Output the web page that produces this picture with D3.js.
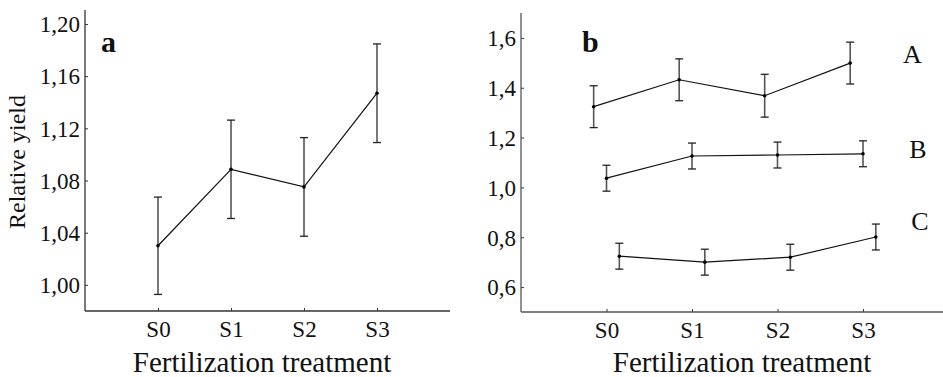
<!DOCTYPE html>
<html><head><meta charset="utf-8">
<script src="https://cdn.jsdelivr.net/npm/d3@7"></script>
<style>
html,body{margin:0;padding:0;background:#fff;}
svg{display:block;}
</style></head>
<body><svg id="c" width="943" height="377" font-family="Liberation Serif"></svg>
<script>
const categories = ["S0","S1","S2","S3"];
// Panel a
const aMean = [1.030, 1.0886, 1.0751, 1.1469];
const aErr  = [0.0373, 0.0377, 0.0378, 0.0378];
const aTicks = [1.00, 1.04, 1.08, 1.12, 1.16, 1.20];
// Panel b
const seriesNames = ["A","B","C"];
const bA = [1.324, 1.432, 1.368, 1.499];
const bAErr = [0.084, 0.084, 0.086, 0.084];
const bB = [1.037, 1.126, 1.130, 1.135];
const bBErr = [0.052, 0.052, 0.052, 0.052];
const bC = [0.724, 0.700, 0.720, 0.801];
const bCErr = [0.052, 0.052, 0.052, 0.052];
const bOffsets = [-0.15, 0, 0.15];
const bTicks = [0.6, 0.8, 1.0, 1.2, 1.4, 1.6];
const labelValues = [1.536, 1.155, 0.866];

const FONT = "Liberation Serif";
const svg = d3.select("#c");
const fmt = (d, n) => d.toFixed(n).replace(".", ",");

function panel(opts) {
  const g = svg.append("g");
  const x = d3.scaleLinear().domain([0, 5]).range([opts.x0, opts.x1]);
  const y = d3.scaleLinear().domain(opts.yDomain).range([opts.yBottom, opts.yTop]);
  // y axis
  const ya = d3.axisLeft(y).tickValues(opts.yTicks).tickSize(-3).tickPadding(5)
      .tickFormat(d => fmt(d, opts.dec));
  const yg = g.append("g").attr("transform", `translate(${opts.x0},0)`).call(ya);
  yg.attr("font-family", FONT);
  yg.select(".domain").remove();
  yg.selectAll(".tick line").attr("stroke", "#333");
  yg.selectAll("text").attr("font-size", 23).style("font-family", FONT).attr("fill", "#111").attr("dy", "0.34em");
  g.append("line").attr("x1", opts.x0).attr("x2", opts.x0).attr("y1", opts.yTop).attr("y2", opts.yBottom)
    .attr("stroke", opts.axisColor).attr("stroke-width", 1.3);
  // x axis
  const xa = d3.axisBottom(x).tickValues([1,2,3,4]).tickSize(-3).tickPadding(10)
      .tickFormat(d => categories[d-1]);
  const xg = g.append("g").attr("transform", `translate(0,${opts.yBottom})`).call(xa);
  xg.attr("font-family", FONT);
  xg.select(".domain").remove();
  xg.selectAll(".tick line").attr("stroke", "#333");
  xg.selectAll("text").attr("font-size", 23).style("font-family", FONT).attr("fill", "#111");
  g.append("line").attr("x1", opts.x0).attr("x2", Math.min(opts.x1, opts.xEnd)).attr("y1", opts.yBottom).attr("y2", opts.yBottom)
    .attr("stroke", opts.axisColor).attr("stroke-width", 1.3);
  // x title
  g.append("text").attr("x", opts.titleX).attr("y", 372).attr("text-anchor", "middle").style("font-family", FONT)
    .attr("font-size", 29).attr("fill", "#111").text("Fertilization treatment");
  // panel letter
  g.append("text").attr("x", opts.letterX).attr("y", 52).attr("font-size", 30).attr("font-weight", "bold")
    .style("font-family", FONT).attr("fill", "#111").text(opts.letter);
  return {g, x, y};
}

function drawSeries(p, means, errs, off) {
  const pts = means.map((m, i) => ({xi: i + 1 + off, m, e: errs[i]}));
  const line = d3.line().x(d => p.x(d.xi)).y(d => p.y(d.m));
  p.g.append("path").datum(pts).attr("d", line).attr("fill", "none").attr("stroke", "#111").attr("stroke-width", 1.2);
  const eb = p.g.selectAll(null).data(pts).enter().append("g").attr("stroke", "#555").attr("stroke-width", 1.6);
  eb.append("line").attr("x1", d => p.x(d.xi)).attr("x2", d => p.x(d.xi))
    .attr("y1", d => p.y(d.m + d.e)).attr("y2", d => p.y(d.m - d.e));
  eb.append("line").attr("x1", d => p.x(d.xi) - 4).attr("x2", d => p.x(d.xi) + 4)
    .attr("y1", d => p.y(d.m + d.e)).attr("y2", d => p.y(d.m + d.e)).attr("stroke", "#222").attr("stroke-width", 1.3);
  eb.append("line").attr("x1", d => p.x(d.xi) - 4).attr("x2", d => p.x(d.xi) + 4)
    .attr("y1", d => p.y(d.m - d.e)).attr("y2", d => p.y(d.m - d.e)).attr("stroke", "#222").attr("stroke-width", 1.3);
  p.g.selectAll(null).data(pts).enter().append("circle")
    .attr("cx", d => p.x(d.xi)).attr("cy", d => p.y(d.m)).attr("r", 1.8).attr("fill", "#000");
}

// Panel a
const pa = panel({x0: 85, x1: 450, xEnd: 450, yTop: 10, yBottom: 311, yDomain: [0.98, 1.2107],
  yTicks: aTicks, dec: 2, axisColor: "#333", titleX: 262, letter: "a", letterX: 101});
drawSeries(pa, aMean, aErr, 0);
svg.append("text").attr("transform", "translate(25,162) rotate(-90)").attr("text-anchor", "middle")
  .style("font-family", FONT).attr("font-size", 24).attr("fill", "#111").text("Relative yield");

// Panel b
const pb = panel({x0: 521, x1: 948.5, xEnd: 943, yTop: 13, yBottom: 312, yDomain: [0.5, 1.7],
  yTicks: bTicks, dec: 1, axisColor: "#555", titleX: 742, letter: "b", letterX: 582});
const bSeries = [[bA, bAErr], [bB, bBErr], [bC, bCErr]];
bSeries.forEach((s, i) => drawSeries(pb, s[0], s[1], bOffsets[i]));
// series labels
const labelX = [912.5, 918, 920];
seriesNames.forEach((n, i) => {
  pb.g.append("text").attr("x", labelX[i]).attr("y", pb.y(labelValues[i])).attr("dy", "0.35em").attr("text-anchor", "middle")
    .style("font-family", FONT).attr("font-size", 26).attr("fill", "#111").text(n);
});
</script></body></html>
